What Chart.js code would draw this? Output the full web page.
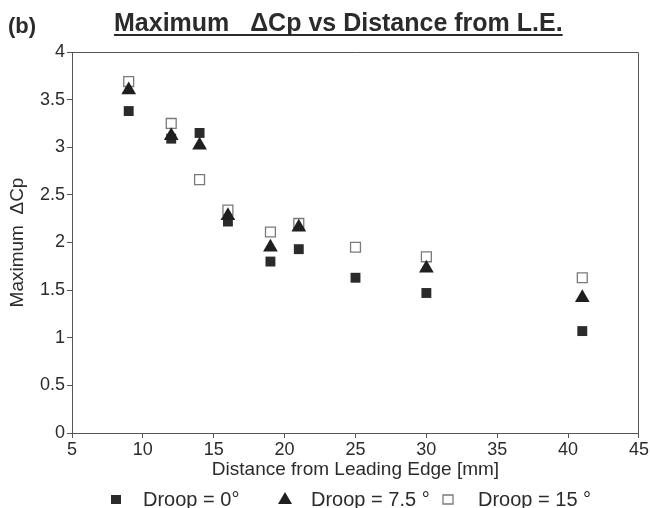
<!DOCTYPE html>
<html>
<head>
<meta charset="utf-8">
<script src="https://cdn.jsdelivr.net/npm/chart.js@4.4.1/dist/chart.umd.min.js"></script>
<style>
  html, body { margin: 0; padding: 0; background: #fff; }
  #wrap { width: 650px; height: 508px; }
</style>
</head>
<body>
<div id="wrap"><canvas id="chart" width="650" height="508"></canvas></div>
<script>
// values
const distance0 = [9, 12, 14, 16, 19, 21, 25, 30, 41];
const deltaCp0 = [3.38, 3.09, 3.15, 2.22, 1.80, 1.93, 1.63, 1.47, 1.07];

const distance75 = [9, 12, 14, 16, 19, 21, 30, 41];
const deltaCp75 = [3.60, 3.12, 3.02, 2.28, 1.95, 2.16, 1.73, 1.42];

const distance15 = [9, 12, 14, 16, 19, 21, 25, 30, 41];
const deltaCp15 = [3.69, 3.25, 2.66, 2.34, 2.11, 2.20, 1.95, 1.85, 1.63];

const seriesLabels = ['Droop = 0°', 'Droop = 7.5 °', 'Droop = 15 °'];
const xTicks = [5, 10, 15, 20, 25, 30, 35, 40, 45];
const yTicks = [0, 0.5, 1, 1.5, 2, 2.5, 3, 3.5, 4];

const ink = '#2b2b2b';
const axisInk = '#555';

function toPoints(xs, ys) {
    return xs.map((x, i) => ({ x: x, y: ys[i] }));
}

// title, "(b)" tag, box on top/right and the legend row
const decorations = {
    id: 'decorations',
    beforeDatasetsDraw(chart) {
        const ctx = chart.ctx;
        const a = chart.chartArea;
        ctx.save();
        ctx.strokeStyle = axisInk;
        ctx.lineWidth = 1;
        ctx.beginPath();
        ctx.moveTo(a.left, a.top + 0.5);
        ctx.lineTo(a.right - 0.5, a.top + 0.5);
        ctx.lineTo(a.right - 0.5, a.bottom);
        ctx.stroke();
        ctx.restore();
    },
    afterDraw(chart) {
        const ctx = chart.ctx;
        ctx.save();
        ctx.fillStyle = ink;
        ctx.textBaseline = 'alphabetic';

        ctx.font = 'bold 22px "Liberation Sans", Arial, sans-serif';
        ctx.fillText('(b)', 8, 33);

        const title = 'Maximum   ΔCp vs Distance from L.E.';
        ctx.font = 'bold 25px "Liberation Sans", Arial, sans-serif';
        ctx.fillText(title, 114, 31);
        const w = ctx.measureText(title).width;
        ctx.fillRect(114, 34, w, 2);

        // legend
        const markX = [116, 285, 448];
        const textX = [143, 311, 478];
        const y = 499;
        ctx.font = '20px "Liberation Sans", Arial, sans-serif';
        ctx.textBaseline = 'middle';
        chart.data.datasets.forEach((ds) => {
            const mx = markX[ds.legendSlot];
            ctx.fillStyle = ds.backgroundColor;
            ctx.strokeStyle = ds.borderColor;
            ctx.lineWidth = ds.borderWidth;
            ctx.beginPath();
            if (ds.pointStyle === 'triangle') {
                ctx.moveTo(mx, y - 7);
                ctx.lineTo(mx + 7, y + 5);
                ctx.lineTo(mx - 7, y + 5);
                ctx.closePath();
            } else {
                ctx.rect(mx - 5, y - 4, 10, 9);
            }
            ctx.fill();
            if (ds.borderWidth > 0) ctx.stroke();
            ctx.fillStyle = ink;
            ctx.fillText(ds.label, textX[ds.legendSlot], y + 1);
        });
        ctx.restore();
    }
};

const ctx = document.getElementById('chart').getContext('2d');
const chart = new Chart(ctx, {
    type: 'scatter',
    data: {
        datasets: [
            {
                label: seriesLabels[1],
                legendSlot: 1,
                data: toPoints(distance75, deltaCp75),
                pointStyle: 'triangle',
                pointRadius: 8.5,
                backgroundColor: '#1f1f1f',
                borderColor: '#1f1f1f',
                borderWidth: 0,
                order: 0
            },
            {
                label: seriesLabels[0],
                legendSlot: 0,
                data: toPoints(distance0, deltaCp0),
                pointStyle: 'rect',
                pointRadius: 7,
                backgroundColor: '#2b2b2b',
                borderColor: '#2b2b2b',
                borderWidth: 0,
                order: 1
            },
            {
                label: seriesLabels[2],
                legendSlot: 2,
                data: toPoints(distance15, deltaCp15),
                pointStyle: 'rect',
                pointRadius: 7,
                backgroundColor: '#ffffff',
                borderColor: '#7a7a7a',
                borderWidth: 1.3,
                order: 2
            }
        ]
    },
    options: {
        responsive: false,
        animation: false,
        devicePixelRatio: 1,
        layout: { padding: { left: 0, top: 52, right: 11, bottom: 25 } },
        plugins: {
            legend: { display: false },
            tooltip: { enabled: false },
            title: { display: false }
        },
        scales: {
            x: {
                type: 'linear',
                min: xTicks[0],
                max: xTicks[xTicks.length - 1],
                afterBuildTicks: (scale) => { scale.ticks = xTicks.map(v => ({ value: v })); },
                afterFit: (scale) => { scale.height = 50; },
                ticks: {
                    color: ink,
                    font: { family: '"Liberation Sans", Arial, sans-serif', size: 18 },
                    padding: 1,
                    maxRotation: 0,
                    callback: (v) => String(v)
                },
                grid: { drawOnChartArea: false, drawTicks: true, tickLength: 5, color: axisInk },
                border: { color: axisInk, width: 1 },
                title: {
                    display: true,
                    text: 'Distance from Leading Edge [mm]',
                    color: ink,
                    font: { family: '"Liberation Sans", Arial, sans-serif', size: 19 },
                    padding: { top: 0, bottom: 2 }
                }
            },
            y: {
                type: 'linear',
                min: yTicks[0],
                max: yTicks[yTicks.length - 1],
                afterBuildTicks: (scale) => { scale.ticks = yTicks.map(v => ({ value: v })); },
                afterFit: (scale) => { scale.width = 72; },
                ticks: {
                    color: ink,
                    font: { family: '"Liberation Sans", Arial, sans-serif', size: 18 },
                    padding: 2,
                    callback: (v) => String(v)
                },
                grid: { drawOnChartArea: false, drawTicks: true, tickLength: 5, color: axisInk },
                border: { color: axisInk, width: 1 },
                title: {
                    display: true,
                    text: 'Maximum  ΔCp',
                    color: ink,
                    font: { family: '"Liberation Sans", Arial, sans-serif', size: 19 },
                    padding: { top: 6, bottom: 0 }
                }
            }
        }
    },
    plugins: [decorations]
});
</script>
</body>
</html>
